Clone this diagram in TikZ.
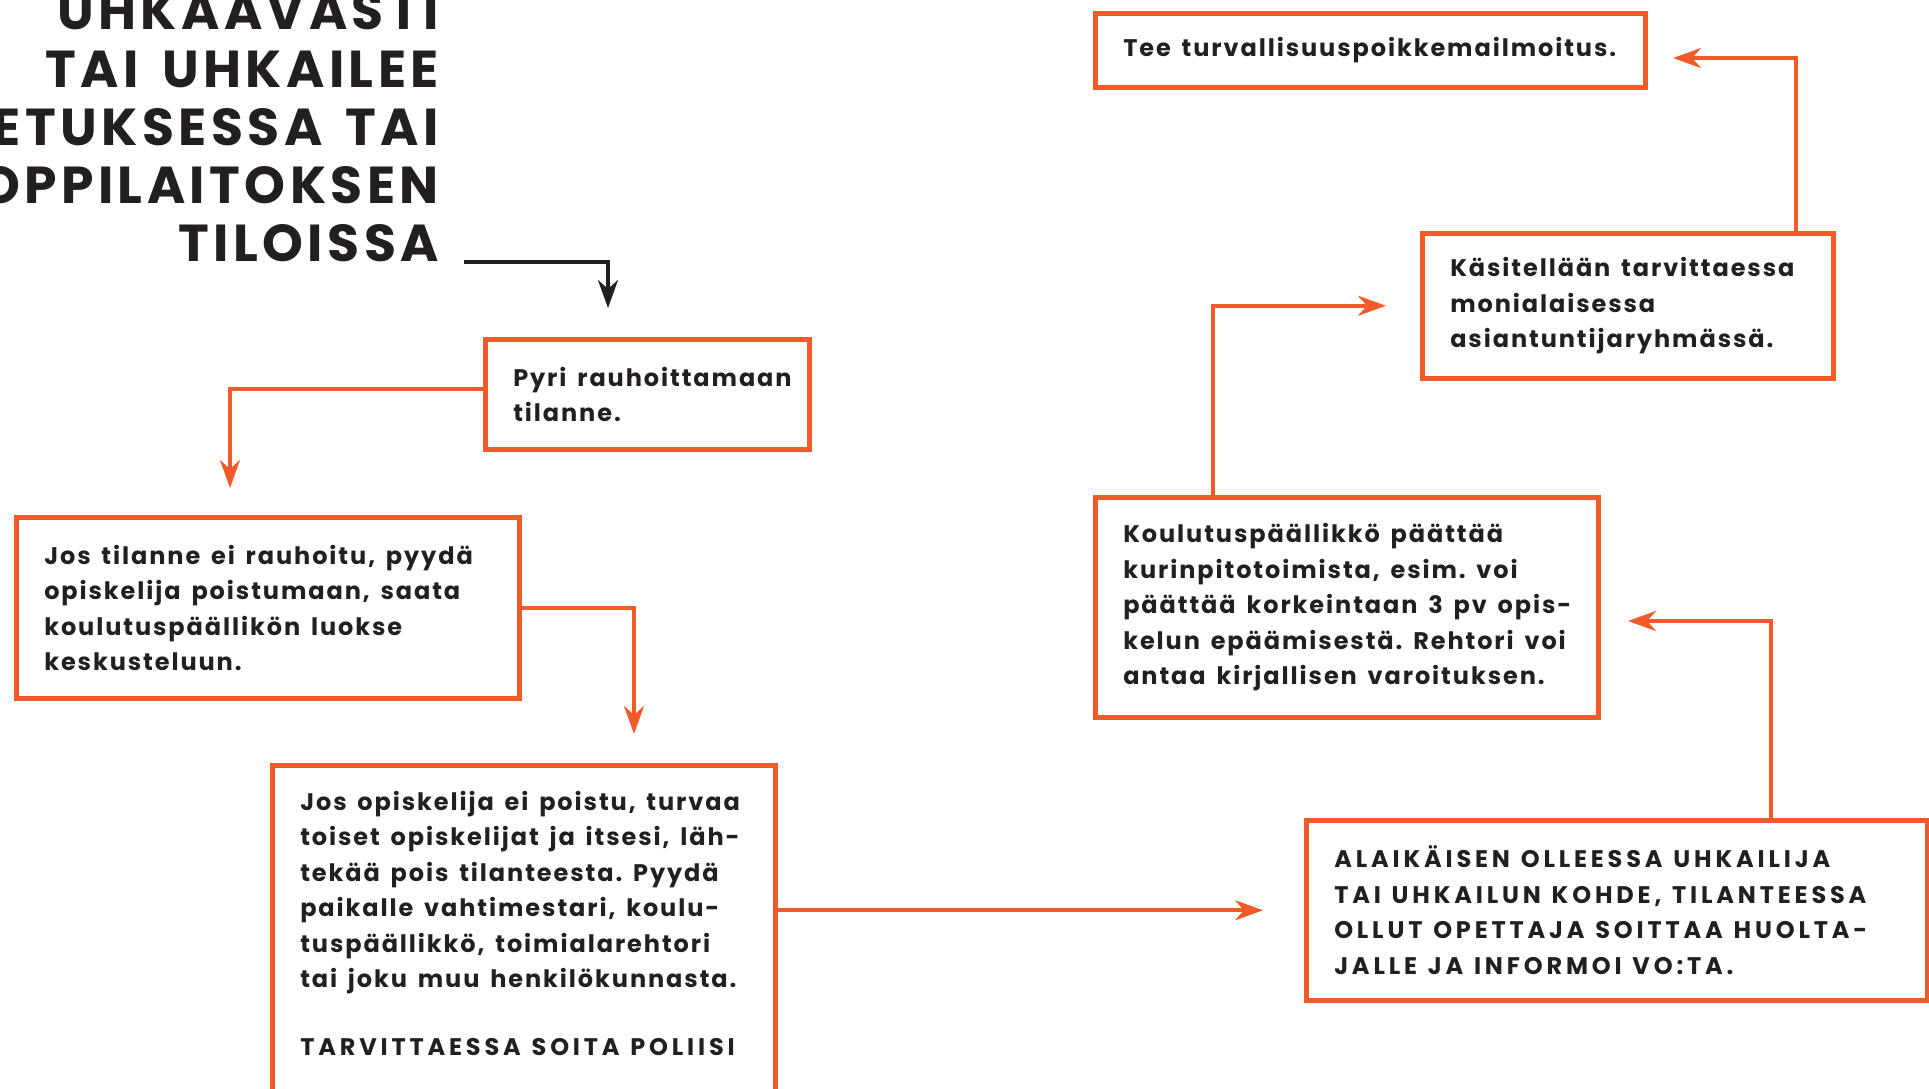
\documentclass[tikz,border=0pt]{standalone}
\usepackage{fontspec}
\setmainfont{Poppins}[LetterSpace=8, Ligatures=NoCommon]
\newfontfamily\capsfont{Poppins}[LetterSpace=16, Ligatures=NoCommon]
\newfontfamily\headfont{Poppins}[LetterSpace=8.5, WordSpace={1.5,1,0}, Ligatures=NoCommon]
\usetikzlibrary{arrows.meta, positioning}
\definecolor{flame}{HTML}{F15A29}
\definecolor{ink}{HTML}{231F20}
\tikzstyle{stepbox} = [rectangle, anchor=north west, draw=flame, line width=4.5pt, inner xsep=28pt, inner ysep=0pt, align=left, text=ink, font=\bfseries\fontsize{24}{35.5}\selectfont, execute at begin node={\frenchspacing\spaceskip=0.45em\xspaceskip=0.45em\rightskip=0pt plus 1fil minus 60pt}]
\tikzstyle{arrow} = [line width=4pt, draw=flame, -{Stealth[length=28pt, width=20pt, inset=9pt]}]
\tikzstyle{blackarrow} = [line width=4pt, draw=ink, -{Stealth[length=28pt, width=20pt, inset=9pt]}]

\begin{document}
\begin{tikzpicture}[x=1pt, y=-1pt]
    \useasboundingbox (0,0) rectangle (1929,1088);
    \clip (0,0) rectangle (1929,1088);

        % Nodes
        \node (title) [anchor=south east, align=right, inner sep=0pt, text=ink, font=\headfont\bfseries\fontsize{52}{58}\selectfont] at (439,262) {UHKAAVASTI\\TAI UHKAILEE\\OPETUKSESSA TAI\\OPPILAITOKSEN\\TILOISSA};
        \node (calm) [stepbox, text width=268pt, minimum height=110pt] at (483,337) {Pyri rauhoittamaan\\tilanne.};
        \node (leave) [stepbox, text width=447pt, minimum height=181pt] at (14,515) {Jos tilanne ei rauhoitu, pyydä\\opiskelija poistumaan, saata\\koulutuspäällikön luokse\\keskusteluun.};
        \node (protect) [stepbox, text width=447pt, inner ysep=26pt] at (270,763) {Jos opiskelija ei poistu, turvaa\\toiset opiskelijat ja itsesi, läh-\\tekää pois tilanteesta. Pyydä\\paikalle vahtimestari, koulu-\\tuspäällikkö, toimialarehtori\\tai joku muu henkilökunnasta.\\[32pt]{\capsfont TARVITTAESSA SOITA POLIISI}\par\vspace*{30pt}};
        \node (minor) [stepbox, text width=565pt, minimum height=180pt, font=\capsfont\bfseries\fontsize{24}{35.5}\selectfont] at (1304,818) {ALAIKÄISEN OLLEESSA UHKAILIJA\\TAI UHKAILUN KOHDE, TILANTEESSA\\OLLUT OPETTAJA SOITTAA HUOLTA-\\JALLE JA INFORMOI VO:TA.};
        \node (decide) [stepbox, text width=447pt, minimum height=220pt] at (1093,495) {Koulutuspäällikkö päättää\\kurinpitotoimista, esim. voi\\päättää korkeintaan 3 pv opis-\\kelun epäämisestä. Rehtori voi\\antaa kirjallisen varoituksen.};
        \node (expert) [stepbox, text width=355pt, minimum height=145pt] at (1420,231) {Käsitellään tarvittaessa\\monialaisessa\\asiantuntijaryhmässä.};
        \node (report) [stepbox, text width=494pt, minimum height=74pt] at (1093,11) {Tee turvallisuuspoikkemailmoitus.};
        \coordinate (calmin) at (608,308);
        \coordinate (leavein) at (230,488);
        \coordinate (protectin) at (634,734);
        \coordinate (decidein) at (1628,621);
        \coordinate (reportin) at (1673,58);

        % Arrows
        \draw [blackarrow] ([xshift=25pt]title.south east) -| (calmin);
        \draw [arrow] ([yshift=5pt]calm.west) -| (leavein);
        \draw [arrow] (leave.east) -| (protectin);
        \draw [arrow] (protect.east |- minor.west) -- ([xshift=-41pt]minor.west);
        \draw [arrow] (minor.north -| 1771,0) |- (decidein);
        \draw [arrow] (decide.north -| 1213,0) |- ([xshift=-34pt]expert.west);
        \draw [arrow] (expert.north -| 1796,0) |- (reportin);

\end{tikzpicture}
\end{document}
